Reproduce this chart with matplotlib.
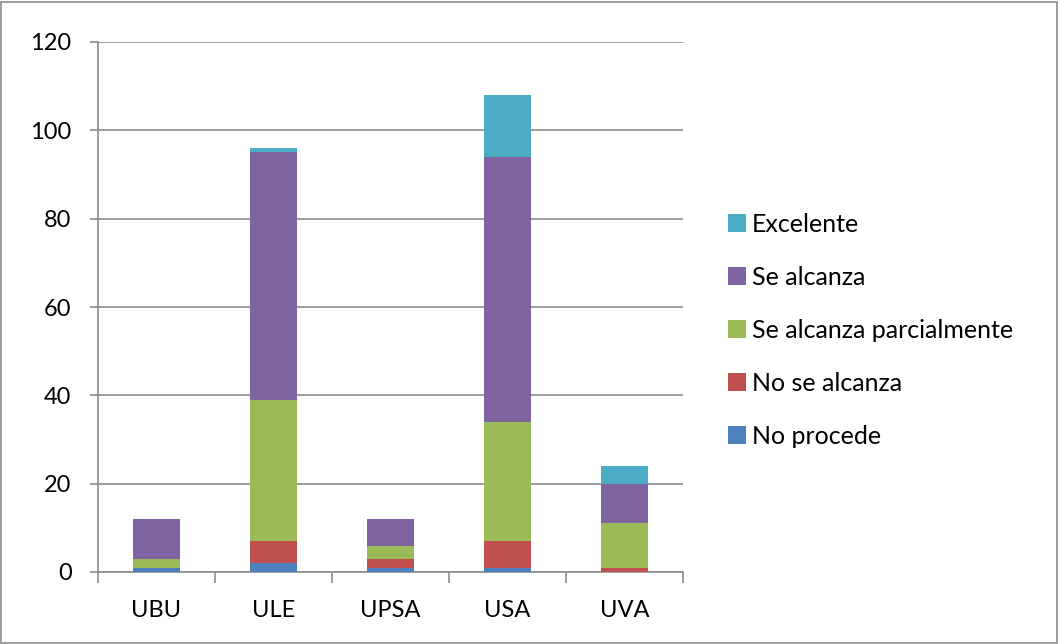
import matplotlib
matplotlib.use('Agg')
from matplotlib import pyplot as plt
from matplotlib.patches import Rectangle
import numpy as np

plt.rcParams['font.family'] = ['Lato', 'DejaVu Sans']

# datos
universidades = ['UBU', 'ULE', 'UPSA', 'USA', 'UVA']
no_procede = [1, 2, 1, 1, 0]
no_se_alcanza = [0, 5, 2, 6, 1]
parcialmente = [2, 32, 3, 27, 10]
se_alcanza = [9, 56, 6, 60, 9]
excelente = [0, 1, 0, 14, 4]

series = [
    ('No procede', no_procede, '#4F81BD'),
    ('No se alcanza', no_se_alcanza, '#C0504D'),
    ('Se alcanza parcialmente', parcialmente, '#9BBB59'),
    ('Se alcanza', se_alcanza, '#8064A2'),
    ('Excelente', excelente, '#4BACC6'),
]

fig = plt.figure(figsize=(10.6, 6.44), dpi=100)
ax = fig.add_axes([98/1060, 1 - 572/644, 585/1060, 530/644])

x = np.arange(len(universidades))
bottom = np.zeros(len(universidades))
handles = []
for nombre, vals, color in series:
    b = ax.bar(x, vals, 0.41, bottom=bottom, color=color, label=nombre, zorder=3)
    handles.append(b)
    bottom += np.array(vals)

ax.set_xlim(-0.5, 4.5)
ax.set_ylim(0, 120)
ax.set_yticks(range(0, 121, 20))
ax.yaxis.grid(True, color='#8c8c8c', lw=1.2, zorder=0)
ax.set_xticks(x)
ax.set_xticklabels(universidades)
ax.set_xticks(np.arange(-0.5, 5, 1), minor=True)
ax.tick_params(axis='x', which='major', length=0, pad=20, labelsize=17)
ax.tick_params(axis='x', which='minor', length=8, color='#8c8c8c', width=1.2)
ax.tick_params(axis='y', length=6, color='#8c8c8c', width=1.2, labelsize=17, pad=13)
for s in ['top', 'right']:
    ax.spines[s].set_visible(False)
for s in ['left', 'bottom']:
    ax.spines[s].set_color('#8c8c8c')
    ax.spines[s].set_linewidth(1.2)

leg = fig.legend(handles[::-1], [s[0] for s in series[::-1]],
                 loc='upper left', bbox_to_anchor=(708/1060, 1 - 193/644),
                 frameon=False, fontsize=18, handlelength=0.72, handleheight=0.72,
                 handletextpad=0.24, labelspacing=1.2, borderpad=0.3)

fig.patches.append(Rectangle((1/1060, 1/644), 1056/1060, 641/644,
                             transform=fig.transFigure, fill=False,
                             edgecolor='#8c8c8c', lw=1.2))

plt.savefig('out.png', dpi=100)
